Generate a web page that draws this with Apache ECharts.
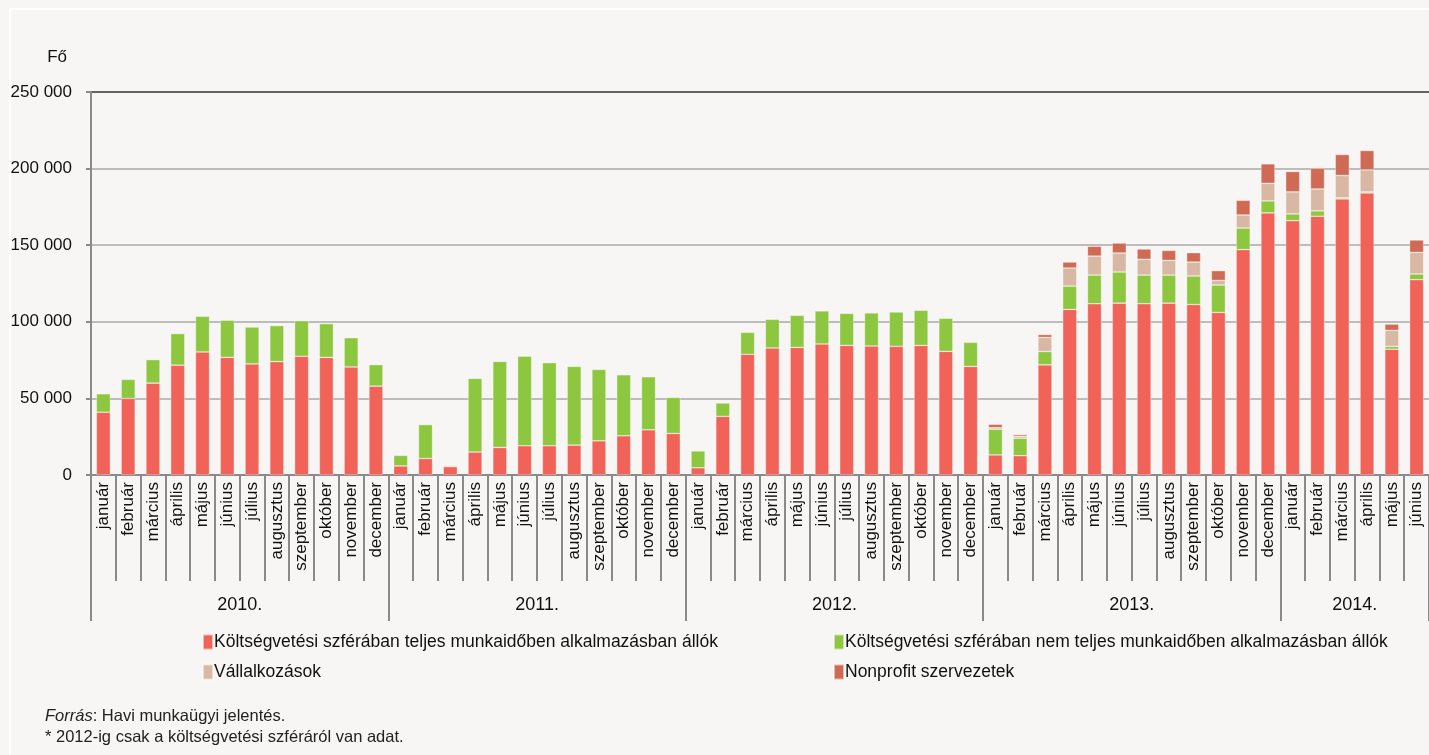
<!DOCTYPE html>
<html>
<head>
<meta charset="utf-8">
<script src="https://cdn.jsdelivr.net/npm/echarts@6/dist/echarts.min.js"></script>
<style>
  html, body { margin: 0; padding: 0; background: #f7f6f4; }
  #chart { width: 1429px; height: 755px; }
</style>
</head>
<body>
<div id="chart"></div>
<script>
  var monthNames = ['január', 'február', 'március', 'április', 'május', 'június',
    'július', 'augusztus', 'szeptember', 'október', 'november', 'december']
  var years = ['2010.', '2011.', '2012.', '2013.', '2014.']
  var monthsPerYear = [12, 12, 12, 12, 6]

  // Költségvetési szféra, teljes munkaidő
  var fullTime = [
    41000, 50000, 60000, 71700, 80300, 76800, 72500, 74000, 77500, 76800, 70500, 58000,
    5900, 10800, 5400, 15000, 18000, 19100, 19100, 19500, 22300, 25600, 29500, 27100,
    4700, 38300, 78800, 82900, 83300, 85500, 84600, 84200, 84000, 84600, 80700, 70900,
    13100, 12600, 71900, 108100, 111800, 112200, 111800, 112200, 111300, 106100, 147100, 171100,
    166000, 168900, 180200, 184100, 82100, 127500
  ]
  // Költségvetési szféra, nem teljes munkaidő
  var partTime = [
    12000, 12400, 15300, 20600, 23300, 24200, 24100, 23500, 23200, 22000, 19100, 14000,
    6900, 22100, 700, 48100, 56100, 58500, 54200, 51400, 46600, 39800, 34600, 23500,
    11000, 8700, 14300, 18700, 20900, 21600, 20900, 21600, 22400, 22900, 21600, 15700,
    16800, 11400, 8700, 15200, 18700, 20300, 18700, 18300, 18600, 17900, 14100, 7800,
    4400, 3500, 700, 700, 1800, 3700
  ]
  // Vállalkozások (2013-tól)
  var companies = [
    0, 0, 0, 0, 0, 0, 0, 0, 0, 0, 0, 0,
    0, 0, 0, 0, 0, 0, 0, 0, 0, 0, 0, 0,
    0, 0, 0, 0, 0, 0, 0, 0, 0, 0, 0, 0,
    1000, 1300, 9200, 11800, 12400, 12400, 10300, 9600, 9100, 3000, 8500, 11500,
    14400, 14300, 14600, 14400, 10500, 14100
  ]
  // Nonprofit szervezetek (2013-tól)
  var nonprofit = [
    0, 0, 0, 0, 0, 0, 0, 0, 0, 0, 0, 0,
    0, 0, 0, 0, 0, 0, 0, 0, 0, 0, 0, 0,
    0, 0, 0, 0, 0, 0, 0, 0, 0, 0, 0, 0,
    2200, 1100, 1900, 3900, 6400, 6500, 6700, 6500, 6100, 6400, 9600, 12700,
    13300, 13500, 13700, 12600, 4100, 8100
  ]
  var seriesNames = [
    'Költségvetési szférában teljes munkaidőben alkalmazásban állók',
    'Költségvetési szférában nem teljes munkaidőben alkalmazásban állók',
    'Vállalkozások',
    'Nonprofit szervezetek'
  ]
  var colors = ['#f16358', '#8dc63f', '#d8b8a3', '#cf6b55']

  var categories = []
  var yearOfIndex = []
  var yearLabelIndex = {}
  var yearStart = {}
  var pos = 0
  monthsPerYear.forEach(function (n, y) {
    yearStart[pos] = true
    yearLabelIndex[pos + n / 2 - 1] = years[y]
    for (var m = 0; m < n; m++) {
      categories.push(monthNames[m])
      yearOfIndex.push(years[y])
      pos++
    }
  })

  var font = '"Liberation Sans Narrow", "Arial Narrow", "Liberation Sans", Arial, sans-serif'

  function makeSeries(i, data) {
    return {
      name: seriesNames[i],
      type: 'bar',
      stack: 'total',
      barWidth: 14,
      data: data.map(function (v) { return v === 0 ? null : v }),
      itemStyle: {
        color: colors[i],
        borderColor: 'rgba(255,255,255,0.55)',
        borderWidth: 0.6
      }
    }
  }

  var legendText = { fontFamily: font, fontSize: 17.5, color: '#111', padding: [0, 0, 0, -4] }

  var chart = echarts.init(document.getElementById('chart'))
  chart.setOption({
    backgroundColor: '#f7f6f4',
    animation: false,
    color: colors,
    textStyle: { fontFamily: font, color: '#111' },
    grid: { left: 91, right: 0, top: 92, bottom: 280 },
    graphic: [{
      type: 'rect',
      shape: { x: 10, y: 9, width: 1460, height: 800 },
      style: { fill: 'none', stroke: '#ffffff', lineWidth: 2 },
      silent: true
    }],
    title: [{
      left: 40,
      top: 703,
      text: '{i|Forrás}: Havi munkaügyi jelentés.',
      textStyle: {
        fontFamily: font, fontSize: 16.5, fontWeight: 'normal', color: '#222',
        rich: { i: { fontStyle: 'italic', fontFamily: font, fontSize: 16.5, color: '#222' } }
      }
    }, {
      left: 40,
      top: 724,
      text: '* 2012-ig csak a költségvetési szféráról van adat.',
      textStyle: { fontFamily: font, fontSize: 16.5, fontWeight: 'normal', color: '#222' }
    }],
    legend: [{
      data: [seriesNames[0], seriesNames[2]],
      orient: 'vertical',
      left: 197,
      top: 628,
      itemWidth: 10,
      itemHeight: 15,
      itemGap: 12,
      icon: 'rect',
      textStyle: legendText
    }, {
      data: [seriesNames[1], seriesNames[3]],
      orient: 'vertical',
      left: 828,
      top: 628,
      itemWidth: 10,
      itemHeight: 15,
      itemGap: 12,
      icon: 'rect',
      textStyle: legendText
    }],
    xAxis: [{
      type: 'category',
      data: categories,
      axisLine: { lineStyle: { color: '#8a8a8a', width: 2 } },
      axisTick: { show: true, interval: 0, length: 106, lineStyle: { color: '#8a8a8a', width: 2 } },
      axisLabel: { interval: 0, rotate: 90, margin: 7, fontSize: 17, color: '#111', fontFamily: font }
    }, {
      type: 'category',
      data: yearOfIndex,
      position: 'bottom',
      axisLine: { show: false },
      axisTick: {
        show: true,
        length: 146,
        interval: function (idx) { return !!yearStart[idx] },
        lineStyle: { color: '#8a8a8a', width: 2 }
      },
      axisLabel: {
        margin: 121,
        fontSize: 18,
        color: '#111',
        fontFamily: font,
        padding: [0, 0, 0, 25],
        interval: function (idx) { return yearLabelIndex[idx] !== undefined },
        formatter: function (v) { return v }
      }
    }],
    yAxis: {
      type: 'value',
      min: 0,
      max: 250000,
      interval: 50000,
      name: 'Fő',
      nameLocation: 'end',
      nameGap: 35,
      nameTextStyle: { fontSize: 17, color: '#111', align: 'right', verticalAlign: 'middle', padding: [0, 24, 0, 0], fontFamily: font },
      axisLine: { show: true, lineStyle: { color: '#8a8a8a', width: 2 } },
      axisTick: { show: true, length: 5, lineStyle: { color: '#8a8a8a', width: 2 } },
      axisLabel: {
        margin: 19,
        fontSize: 17,
        color: '#111',
        fontFamily: font,
        formatter: function (v) { return String(v).replace(/\B(?=(\d{3})+(?!\d))/g, ' ') }
      },
      splitLine: {
        show: true,
        lineStyle: { color: ['#a9a9ab', '#a9a9ab', '#a9a9ab', '#a9a9ab', '#a9a9ab', '#333333'], width: 1.5 }
      }
    },
    series: [
      makeSeries(0, fullTime),
      makeSeries(1, partTime),
      makeSeries(2, companies),
      makeSeries(3, nonprofit)
    ]
  })
</script>
</body>
</html>
